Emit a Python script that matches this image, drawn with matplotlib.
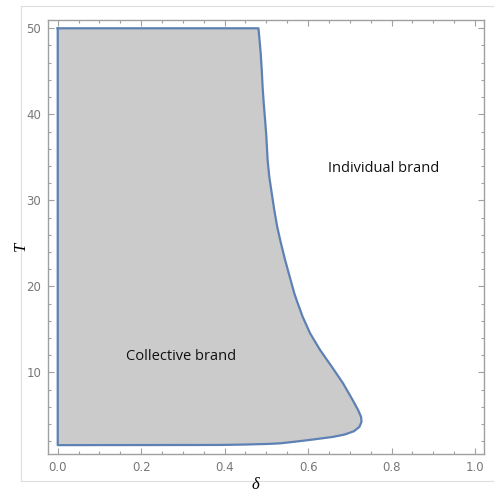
import matplotlib
matplotlib.use("Agg")
import matplotlib.pyplot as plt
from matplotlib.lines import Line2D
from matplotlib.ticker import MultipleLocator

# Boundary of the "Collective brand" region (delta, T)
delta_vals = [0.0, 0.481, 0.483, 0.4865, 0.489, 0.491, 0.4937, 0.497, 0.500,
              0.503, 0.507, 0.513, 0.519, 0.526, 0.535, 0.545, 0.556, 0.567,
              0.574, 0.587, 0.605, 0.629, 0.657, 0.684, 0.707, 0.720, 0.727,
              0.728, 0.723, 0.710, 0.688, 0.660, 0.613, 0.565, 0.533, 0.509,
              0.45, 0.389, 0.0]
T_vals = [50.0, 50.0, 49.0, 47.07, 45.15, 43.2, 41.28, 39.34, 37.4,
          34.7, 32.74, 30.8, 28.87, 26.93, 25.0, 23.06, 21.12, 19.19,
          18.2, 16.47, 14.53, 12.59, 10.65, 8.72, 6.78, 5.62, 4.84,
          4.26, 3.67, 3.17, 2.79, 2.51, 2.21, 1.93, 1.76, 1.70,
          1.62, 1.57, 1.55]

x_ticks = [0.0, 0.2, 0.4, 0.6, 0.8, 1.0]
x_tick_labels = ["0.0", "0.2", "0.4", "0.6", "0.8", "1.0"]
y_ticks = [10, 20, 30, 40, 50]
y_tick_labels = ["10", "20", "30", "40", "50"]

region_labels = ["Collective brand", "Individual brand"]
region_label_pos = [(0.296, 11.8), (0.78, 33.75)]

fig = plt.figure(figsize=(4.94, 4.95), dpi=100)
W, H = 494, 495
ax = fig.add_axes([48.3 / W, 1 - 454 / H, (484 - 48.3) / W, (454 - 19.5) / H])

ax.fill(delta_vals, T_vals, facecolor="#cbcbcb", edgecolor="none", zorder=1)
ax.plot(delta_vals + [delta_vals[0]], T_vals + [T_vals[0]], color="#5e81b5",
        lw=1.6, solid_joinstyle="round", zorder=2)

ax.set_xlim(-0.0226, 1.0216)
ax.set_ylim(0.52, 51.02)

ax.set_xticks(x_ticks)
ax.set_xticklabels(x_tick_labels)
ax.set_yticks(y_ticks)
ax.set_yticklabels(y_tick_labels)
ax.xaxis.set_minor_locator(MultipleLocator(0.05))
ax.yaxis.set_minor_locator(MultipleLocator(2))

axis_col = "#a0a0a0"
for s in ax.spines.values():
    s.set_color(axis_col)
    s.set_linewidth(1.0)
ax.tick_params(which="both", direction="in", top=True, right=True,
               color=axis_col, width=0.8, labelcolor="#777777",
               labelsize=8.5)
ax.tick_params(which="major", length=4.5, pad=5)
ax.tick_params(which="minor", length=2.5)
ax.tick_params(axis="x", which="both", labeltop=False)
ax.tick_params(axis="y", which="both", labelright=False)

for txt, (px, py) in zip(region_labels, region_label_pos):
    ax.text(px, py, txt, ha="center", va="center", fontsize=10.5,
            family="Open Sans", color="#111111")

fig.text(255.7 / W, 1 - 485 / H, "δ", ha="center", va="center",
         fontsize=12, family="Liberation Serif", style="italic")
fig.text(21 / W, 1 - 246.7 / H, "T", ha="center", va="center",
         fontsize=12, family="Liberation Serif", style="italic", rotation=90)

# light outer frame
bc = "#dddddd"
x0, x1 = 20.7 / W, 1.0
y0, y1 = 1 - 480.7 / H, 1 - 6 / H
fig.add_artist(Line2D([x0, x1], [y1, y1], color=bc, lw=0.8, transform=fig.transFigure))
fig.add_artist(Line2D([x0, x1], [y0, y0], color=bc, lw=0.8, transform=fig.transFigure))
fig.add_artist(Line2D([x0, x0], [y0, y1], color=bc, lw=0.8, transform=fig.transFigure))

fig.savefig("out.png", dpi=100)
